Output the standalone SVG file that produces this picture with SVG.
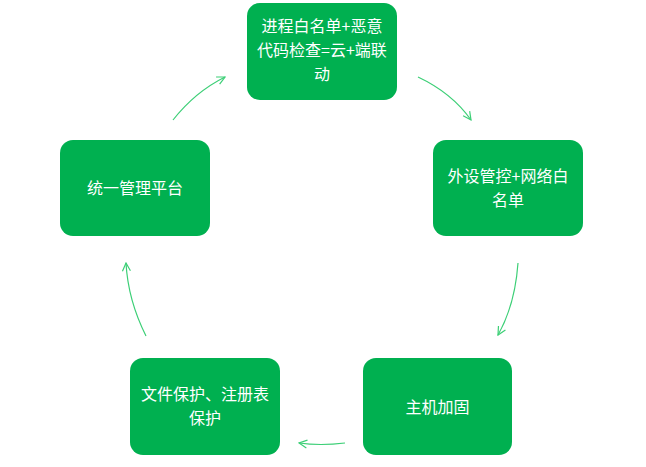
<svg xmlns="http://www.w3.org/2000/svg" width="646" height="467" viewBox="0 0 646 467">
<defs>
<style>
.box{fill:#00b050;}
.t{font-family:"Noto Sans CJK SC","Noto Sans",sans-serif;font-size:16px;fill:#ffffff;text-anchor:middle;}
.c{fill:none;stroke:#3ccf76;stroke-width:1.2;marker-end:url(#ah);}
</style>
<marker id="ah" viewBox="0 0 10 10" refX="9" refY="5" markerWidth="10" markerHeight="10" markerUnits="userSpaceOnUse" orient="auto">
<path d="M1,1 L9,5 L1,9" fill="none" stroke="#3ccf76" stroke-width="1.2"/>
</marker>
</defs>
<rect width="646" height="467" fill="#ffffff"/>
<g id="connectors">
<path class="c" d="M173,120 Q195,92 225,77"/>
<path class="c" d="M418,77 Q452,93 471,120"/>
<path class="c" d="M518,263 Q515,305 498,335"/>
<path class="c" d="M345,443 Q320,446 299,443"/>
<path class="c" d="M146,336 Q128,300 126,263"/>
</g>
<g id="node-top">
<rect class="box" x="247" y="3" width="150" height="97" rx="13"/>
<text class="t" x="322" y="32">进程白名单+恶意</text>
<text class="t" x="322" y="56">代码检查=云+端联</text>
<text class="t" x="322" y="80">动</text>
</g>
<g id="node-right">
<rect class="box" x="433" y="140" width="150" height="96" rx="13"/>
<text class="t" x="508" y="182">外设管控+网络白</text>
<text class="t" x="508" y="206">名单</text>
</g>
<g id="node-bottom-right">
<rect class="box" x="363" y="358" width="149" height="97" rx="13"/>
<text class="t" x="437.5" y="413">主机加固</text>
</g>
<g id="node-bottom-left">
<rect class="box" x="130" y="358" width="150" height="97" rx="13"/>
<text class="t" x="205" y="400">文件保护、注册表</text>
<text class="t" x="205" y="424">保护</text>
</g>
<g id="node-left">
<rect class="box" x="60" y="140" width="150" height="96" rx="13"/>
<text class="t" x="135" y="194">统一管理平台</text>
</g>
</svg>
